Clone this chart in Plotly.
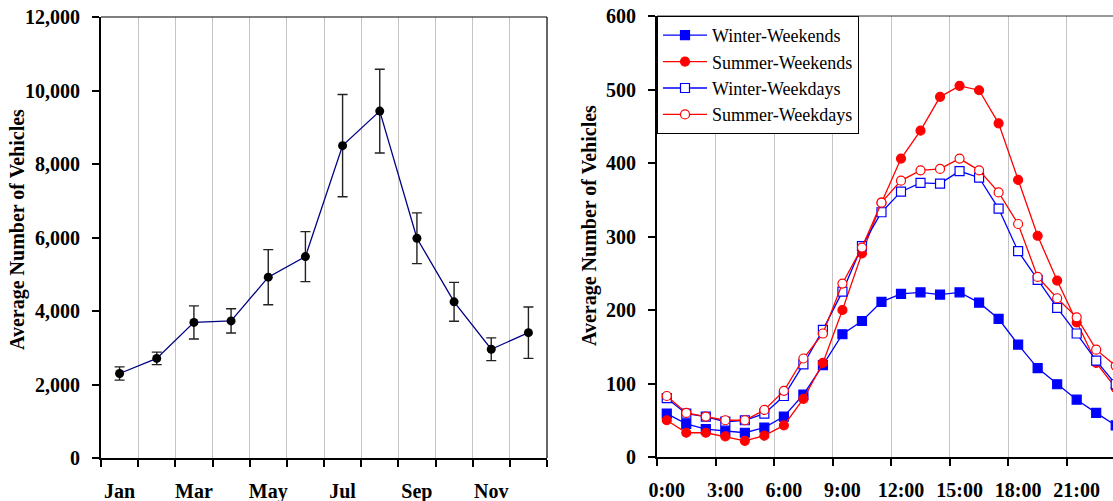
import plotly.graph_objects as go

# ---------------- data ----------------
months = ["Jan", "Feb", "Mar", "Apr", "May", "Jun", "Jul", "Aug", "Sep", "Oct", "Nov", "Dec"]
month_labels_shown = ["Jan", "Mar", "May", "Jul", "Sep", "Nov"]
monthly_avg = [2300, 2710, 3690, 3730, 4920, 5480, 8500, 9440, 5980, 4250, 2960, 3410]
monthly_err = [180, 170, 450, 330, 750, 680, 1390, 1140, 690, 530, 310, 700]

hour_labels = ["0:00", "3:00", "6:00", "9:00", "12:00", "15:00", "18:00", "21:00"]
hours = list(range(24))
winter_weekends = [59, 45, 38, 35, 33, 40, 55, 85, 125, 167, 185, 211, 222, 224, 221, 224, 210, 188, 153, 121, 99, 78, 60, 43]
summer_weekends = [50, 33, 33, 28, 22, 29, 43, 79, 128, 200, 277, 346, 406, 444, 490, 505, 499, 454, 377, 301, 240, 183, 128, 94]
winter_weekdays = [80, 59, 55, 48, 50, 59, 83, 126, 173, 225, 287, 333, 361, 373, 372, 389, 380, 338, 280, 241, 203, 168, 131, 99]
summer_weekdays = [83, 60, 55, 50, 50, 64, 90, 134, 168, 236, 285, 346, 376, 390, 392, 406, 390, 360, 317, 245, 216, 190, 146, 124]

# ---------------- layout geometry ----------------
W, H = 1113, 501
FONT = "Liberation Serif, Times New Roman, serif"


def px_x(p):
    return p / W


def px_y(p):
    return 1 - p / H


fig = go.Figure()

month_idx = list(range(len(months)))
fig.add_trace(go.Scatter(
    x=month_idx, y=monthly_avg, mode="lines+markers",
    line=dict(color="#000080", width=1.3),
    marker=dict(color="black", size=9, symbol="circle"),
    error_y=dict(type="data", array=monthly_err, color="#222222", thickness=1.4, width=5),
    showlegend=False, xaxis="x", yaxis="y", cliponaxis=False,
))

series = [
    ("Winter-Weekends", winter_weekends, "#0000FF", "square", True),
    ("Summer-Weekends", summer_weekends, "#FF0000", "circle", True),
    ("Winter-Weekdays", winter_weekdays, "#0000FF", "square", False),
    ("Summer-Weekdays", summer_weekdays, "#FF0000", "circle", False),
]
for name, vals, col, sym, filled in series:
    fig.add_trace(go.Scatter(
        x=hours, y=vals, mode="lines+markers", name=name,
        line=dict(color=col, width=1.3),
        marker=dict(color=col if filled else "white", symbol=sym,
                    size=9, line=dict(color=col, width=1.2)),
        xaxis="x2", yaxis="y2",
    ))

tickfont = dict(family=FONT, size=20, color="black", weight="bold")
grid = "#c4c4c4"

fig.update_layout(
    template="none",
    width=W, height=H,
    margin=dict(l=0, r=0, t=0, b=0, pad=0, autoexpand=False),
    paper_bgcolor="white", plot_bgcolor="white",
    font=dict(family=FONT, color="black"),
    xaxis=dict(
        domain=[px_x(101), px_x(547)], range=[-0.5, 11.5], automargin=False,
        tickmode="array", tickvals=[0, 2, 4, 6, 8, 10], ticktext=month_labels_shown,
        ticks="", showgrid=False, zeroline=False,
        showline=True, linecolor="black", linewidth=2,
        tickfont=tickfont, ticklabelstandoff=14,
        minor=dict(tickmode="linear", tick0=0.5, dtick=1, ticks="outside", ticklen=7,
                   tickcolor="black", tickwidth=1.5, showgrid=True, gridcolor=grid, gridwidth=1),
    ),
    yaxis=dict(
        domain=[px_y(458), px_y(17)], range=[0, 12000], dtick=2000, tickformat=",d",
        automargin=False,
        ticks="outside", ticklen=7, tickcolor="black", tickwidth=1.5,
        showgrid=False, zeroline=False, showline=True, linecolor="black", linewidth=2,
        tickfont=tickfont, ticklabelstandoff=8,
    ),
    xaxis2=dict(
        domain=[px_x(657), 1.0], range=[-0.5, -0.5 + 456 / 19.52], anchor="y2", automargin=False,
        tickmode="array", tickvals=[0, 3, 6, 9, 12, 15, 18, 21], ticktext=hour_labels,
        ticks="", showgrid=False, zeroline=False,
        showline=True, linecolor="black", linewidth=2,
        tickfont=tickfont, ticklabelstandoff=14,
        minor=dict(tickmode="linear", tick0=-0.5, dtick=3, ticks="outside", ticklen=7,
                   tickcolor="black", tickwidth=1.5, showgrid=True, gridcolor=grid, gridwidth=1),
    ),
    yaxis2=dict(
        domain=[px_y(457), px_y(16)], range=[0, 600], dtick=100, anchor="x2", automargin=False,
        ticks="outside", ticklen=7, tickcolor="black", tickwidth=1.5,
        showgrid=False, zeroline=False, showline=True, linecolor="black", linewidth=2,
        tickfont=tickfont, ticklabelstandoff=8,
    ),
    legend=dict(
        x=px_x(657), y=px_y(16), xanchor="left", yanchor="top",
        bgcolor="white", bordercolor="black", borderwidth=1,
        font=dict(family=FONT, size=18, color="black"),
        tracegroupgap=0, itemwidth=44,
    ),
    shapes=[
        dict(type="line", xref="x domain", yref="y domain", x0=0, x1=1, y0=1, y1=1,
             line=dict(color="black", width=1.2)),
        dict(type="line", xref="x domain", yref="y domain", x0=1, x1=1, y0=0, y1=1,
             line=dict(color="black", width=1.2)),
        dict(type="line", xref="x2 domain", yref="y2 domain", x0=0, x1=1, y0=1, y1=1,
             line=dict(color="#333333", width=1.2)),
    ],
    annotations=[
        dict(text="<b>Average Number of Vehicles</b>", textangle=-90, xref="paper", yref="paper",
             x=px_x(18), y=px_y(230), xanchor="center", yanchor="middle", showarrow=False,
             font=dict(family=FONT, size=20, color="black")),
        dict(text="<b>Average Number of Vehicles</b>", textangle=-90, xref="paper", yref="paper",
             x=px_x(590), y=px_y(226), xanchor="center", yanchor="middle", showarrow=False,
             font=dict(family=FONT, size=20, color="black")),
    ],
)

fig.write_html("out.html")
